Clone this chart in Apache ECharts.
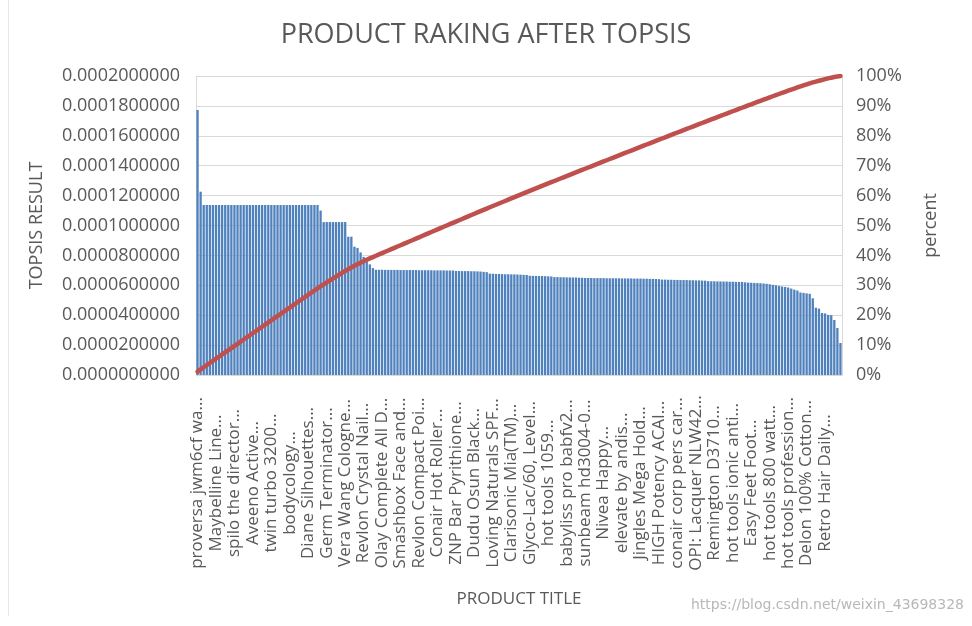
<!DOCTYPE html>
<html>
<head>
<meta charset="utf-8">
<script src="https://cdn.jsdelivr.net/npm/echarts@6/dist/echarts.min.js"></script>
<style>
html,body{margin:0;padding:0;background:#fff;}
#chart{width:972px;height:626px;}
</style>
</head>
<body>
<div id="chart"></div>
<script>
// Product titles shown on the category axis (every 6th product)
const shownTitles = [
  'proversa jwm6cf wa...', 'Maybelline Line...', 'spilo the director...', 'Aveeno Active...',
  'twin turbo 3200...', 'bodycology...', 'Diane Silhouettes...', 'Germ Terminator...',
  'Vera Wang Cologne...', 'Revlon Crystal Nail...', 'Olay Complete All D...', 'Smashbox Face and...',
  'Revlon Compact Poi...', 'Conair Hot Roller...', 'ZNP Bar Pyrithione...', 'Dudu Osun Black...',
  'Loving Naturals SPF...', 'Clarisonic Mia(TM)...', 'Glyco-Lac/60, Level...', 'hot tools 1059...',
  'babyliss pro babfv2...', 'sunbeam hd3004-0...', 'Nivea Happy...', 'elevate by andis...',
  'Jingles Mega Hold...', 'HIGH Potency ACAI...', 'conair corp pers car...', 'OPI: Lacquer NLW42...',
  'Remington D3710...', 'hot tools ionic anti...', 'Easy Feet Foot...', 'hot tools 800 watt...',
  'hot tools profession...', 'Delon 100% Cotton...', 'Retro Hair Daily...'
];
const LABEL_EVERY = 6;

// TOPSIS result per product (sorted)
const topsisResult = [
  177.3e-6, 122.6e-6,
  113.7e-6, 113.7e-6, 113.7e-6, 113.7e-6, 113.7e-6, 113.7e-6, 113.7e-6, 113.7e-6, 113.7e-6, 113.7e-6,
  113.7e-6, 113.7e-6, 113.7e-6, 113.7e-6, 113.7e-6, 113.7e-6, 113.7e-6, 113.7e-6, 113.7e-6, 113.7e-6,
  113.7e-6, 113.7e-6, 113.7e-6, 113.7e-6, 113.7e-6, 113.7e-6, 113.7e-6, 113.7e-6, 113.7e-6, 113.7e-6,
  113.7e-6, 113.7e-6, 113.7e-6, 113.7e-6, 113.7e-6, 113.7e-6, 113.7e-6, 113.7e-6,
  110.0e-6,
  102.3e-6, 102.3e-6, 102.3e-6, 102.3e-6, 102.3e-6, 102.3e-6, 102.3e-6, 102.3e-6,
  92.5e-6, 92.5e-6,
  85.8e-6, 85.0e-6,
  82.0e-6, 79.0e-6, 76.5e-6, 74.0e-6, 71.5e-6,
  70.4e-6, 70.4e-6, 70.4e-6, 70.3e-6, 70.3e-6, 70.3e-6, 70.3e-6, 70.3e-6, 70.2e-6, 70.2e-6,
  70.2e-6, 70.2e-6, 70.2e-6, 70.2e-6, 70.1e-6, 70.1e-6, 70.1e-6, 70.1e-6, 70.1e-6, 70.0e-6,
  70.0e-6, 70.0e-6, 70.0e-6, 69.9e-6, 69.9e-6, 69.9e-6,
  69.6e-6, 69.6e-6, 69.5e-6, 69.5e-6, 69.5e-6, 69.4e-6, 69.4e-6, 69.3e-6, 69.2e-6, 69.0e-6, 68.8e-6,
  67.8e-6, 67.7e-6, 67.6e-6, 67.6e-6, 67.5e-6, 67.4e-6, 67.4e-6, 67.3e-6, 67.3e-6, 67.2e-6,
  67.1e-6, 67.0e-6, 66.9e-6,
  66.4e-6, 66.3e-6, 66.3e-6, 66.2e-6, 66.2e-6, 66.1e-6, 66.0e-6, 65.9e-6,
  65.5e-6, 65.5e-6, 65.4e-6, 65.4e-6, 65.3e-6, 65.3e-6, 65.2e-6, 65.2e-6, 65.1e-6, 65.0e-6,
  64.9e-6, 64.9e-6, 64.9e-6, 64.8e-6, 64.8e-6, 64.8e-6, 64.8e-6, 64.7e-6, 64.7e-6, 64.7e-6,
  64.7e-6, 64.7e-6, 64.6e-6, 64.6e-6, 64.6e-6, 64.6e-6, 64.5e-6, 64.5e-6, 64.5e-6, 64.4e-6,
  64.4e-6, 64.3e-6, 64.3e-6, 64.2e-6, 64.1e-6,
  63.8e-6, 63.8e-6, 63.7e-6, 63.7e-6, 63.6e-6, 63.6e-6, 63.5e-6, 63.5e-6, 63.5e-6, 63.4e-6,
  63.4e-6, 63.3e-6, 63.3e-6, 63.2e-6, 63.1e-6,
  62.8e-6, 62.7e-6, 62.7e-6, 62.6e-6, 62.6e-6, 62.5e-6, 62.5e-6, 62.4e-6, 62.4e-6, 62.3e-6,
  62.3e-6, 62.2e-6, 62.0e-6,
  61.8e-6, 61.7e-6, 61.6e-6, 61.5e-6, 61.4e-6, 61.2e-6, 61.0e-6, 60.7e-6,
  60.3e-6, 60.0e-6, 59.6e-6, 59.2e-6, 58.9e-6, 58.5e-6,
  57.8e-6, 57.1e-6, 56.5e-6,
  55.2e-6, 54.9e-6, 54.6e-6, 54.3e-6,
  51.3e-6,
  45.0e-6, 44.4e-6,
  41.5e-6, 41.2e-6,
  40.2e-6, 40.0e-6,
  36.8e-6, 31.4e-6, 21.4e-6
];

// Left axis ticks and right axis ticks
const leftAxisMax = 0.0002, leftAxisStep = 0.00002;
const rightAxisMax = 1, rightAxisStep = 0.1;

// Category list: shown titles at every 6th product; the others are unreadable in the picture
const categories = topsisResult.map((v, i) =>
  i % LABEL_EVERY === 0 && shownTitles[i / LABEL_EVERY] ? shownTitles[i / LABEL_EVERY] : 'product #' + (i + 1));

// Pareto cumulative share, derived from the bar values
const total = topsisResult.reduce((a, b) => a + b, 0);
let run = 0;
const cumulativeShare = topsisResult.map(v => { run += v; return run / total; });

const FONT = '"Open Sans", "DejaVu Sans", sans-serif';
const GRAY = '#595959';

const chart = echarts.init(document.getElementById('chart'), null, { renderer: 'canvas' });
chart.setOption({
  animation: false,
  backgroundColor: '#ffffff',
  title: {
    text: 'PRODUCT RAKING AFTER TOPSIS',
    left: 481, top: 17, textAlign: 'center',
    textStyle: { fontFamily: FONT, fontSize: 27, fontWeight: 'normal', color: GRAY }
  },
  grid: { left: 196, right: 130, top: 76, bottom: 251, containLabel: false },
  xAxis: {
    type: 'category',
    data: categories,
    name: 'PRODUCT TITLE',
    nameLocation: 'middle',
    nameGap: 216,
    nameTextStyle: { fontFamily: FONT, fontSize: 17, color: GRAY },
    axisLine: { show: true, lineStyle: { color: '#D9D9D9', width: 1 } },
    axisTick: { show: false },
    axisLabel: {
      interval: LABEL_EVERY - 1,
      rotate: 90,
      align: 'center',
      margin: 108,
      fontFamily: FONT, fontSize: 17, color: GRAY
    }
  },
  yAxis: [
    {
      type: 'value', min: 0, max: leftAxisMax, interval: leftAxisStep,
      name: 'TOPSIS RESULT', nameLocation: 'middle', nameGap: 150, nameRotate: 90,
      nameTextStyle: { fontFamily: FONT, fontSize: 18, color: GRAY },
      axisLine: { show: true, lineStyle: { color: '#D9D9D9' } },
      axisTick: { show: false },
      axisLabel: { margin: 16, fontFamily: FONT, fontSize: 18, color: GRAY,
        formatter: v => v.toFixed(10) },
      splitLine: { show: true, lineStyle: { color: '#D9D9D9', width: 1 } }
    },
    {
      type: 'value', min: 0, max: rightAxisMax, interval: rightAxisStep, position: 'right',
      name: 'percent', nameLocation: 'middle', nameGap: 80, nameRotate: 90,
      nameTextStyle: { fontFamily: FONT, fontSize: 18, color: GRAY },
      axisLine: { show: true, lineStyle: { color: '#D9D9D9' } },
      axisTick: { show: false },
      axisLabel: { margin: 14, fontFamily: FONT, fontSize: 18, color: GRAY,
        formatter: v => Math.round(v * 100) + '%' },
      splitLine: { show: false }
    }
  ],
  series: [
    {
      name: 'TOPSIS RESULT', type: 'bar', data: topsisResult, yAxisIndex: 0,
      barCategoryGap: '25%',
      itemStyle: { color: '#4F81BD' }
    },
    {
      name: 'percent', type: 'line', data: cumulativeShare, yAxisIndex: 1,
      symbol: 'none', smooth: false,
      lineStyle: { color: '#C0504D', width: 4.5, cap: 'round' }
    }
  ],
  graphic: [
    { type: 'line', shape: { x1: 8.5, y1: 0, x2: 8.5, y2: 616 }, style: { stroke: '#E6E6E6', lineWidth: 1 } },
    { type: 'text', right: 8, top: 598,
      style: { text: 'https://blog.csdn.net/weixin_43698328', fill: '#B8B8B8', font: '14px "DejaVu Sans", sans-serif' } }
  ]
});
</script>
</body>
</html>
